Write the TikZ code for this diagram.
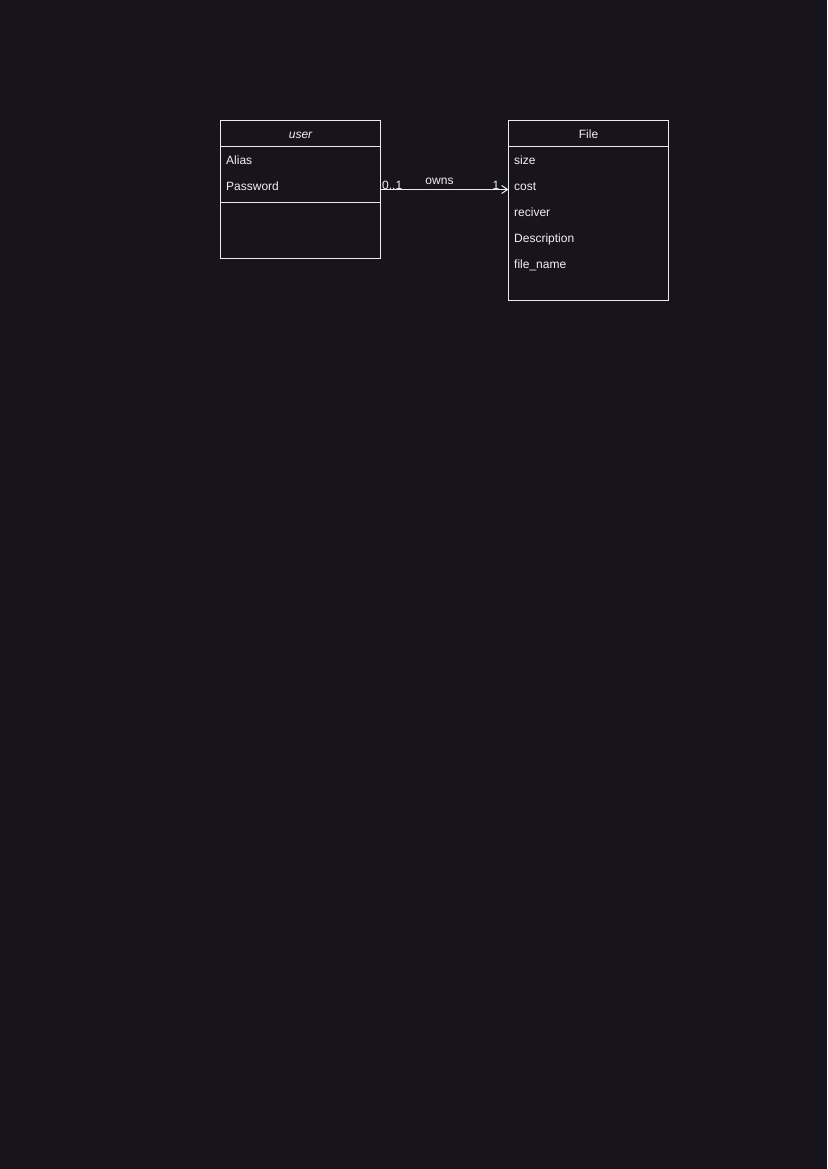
\documentclass[tikz,border=0pt]{standalone}
\usepackage{fontspec}
\setmainfont{Liberation Sans}
\usepackage{xcolor}
\definecolor{BgCol}{RGB}{24,20,29}
\definecolor{LineCol}{RGB}{235,235,235}
\definecolor{TextCol}{RGB}{240,240,240}
\usepackage{tikz}
\usetikzlibrary{arrows.meta}
\tikzstyle{Box}=[draw=LineCol,line width=1pt,minimum width=160pt,inner sep=0pt,
text=TextCol,font=\fontsize{12}{14}\selectfont]
\tikzstyle{Head}=[Box,minimum height=26pt,text height=11pt,text depth=0pt]
\tikzstyle{Attr}=[anchor=base west,inner sep=0pt,text=TextCol,
font=\fontsize{12}{14}\selectfont]
\tikzstyle{Edge}=[draw=LineCol,line width=1pt,-{Straight Barb[length=6pt,width=8pt]}]
\tikzstyle{Mult}=[inner sep=0pt,text=TextCol,font=\fontsize{12}{14}\selectfont]

\begin{document}
\begin{tikzpicture}[x=1pt,y=-1pt]
        \fill[BgCol](0,0)rectangle(827,1169);
        \useasboundingbox(0,0)rectangle(827,1169);
        % user class
        \node[Head](userHead)at(300.5,133.5){\itshape user};
        \node[Box,minimum height=56pt](userAttr)at(300.5,174.5){};
        \node[Box,minimum height=56pt](userOps)at(300.5,230.5){};
        \node[Attr](alias)at(226,165){Alias};
        \node[Attr](password)at(226,190.5){Password};
        % File class
        \node[Head](fileHead)at(588.5,133.5){File};
        \node[Box,minimum height=154pt](fileAttr)at(588.5,223.5){};
        \node[Attr](size)at(514,165){size};
        \node[Attr](cost)at(514,190.5){cost};
        \node[Attr](reciver)at(514,216.5){reciver};
        \node[Attr](descr)at(514,242.5){Description};
        \node[Attr](fname)at(514,268.5){file\_name};
        % association
        \coordinate(ownsA)at(380.5,189.5);
        \coordinate(ownsB)at(508.5,189.5);
        \draw[Edge](ownsA)--(ownsB);
        \node[Mult,anchor=base west](multA)at(382,189.5){0..1};
        \node[Mult,anchor=base](owns)at(439.5,185){owns};
        \node[Mult,anchor=base east](multB)at(499.5,189.5){1};
    \end{tikzpicture}
\end{document}
